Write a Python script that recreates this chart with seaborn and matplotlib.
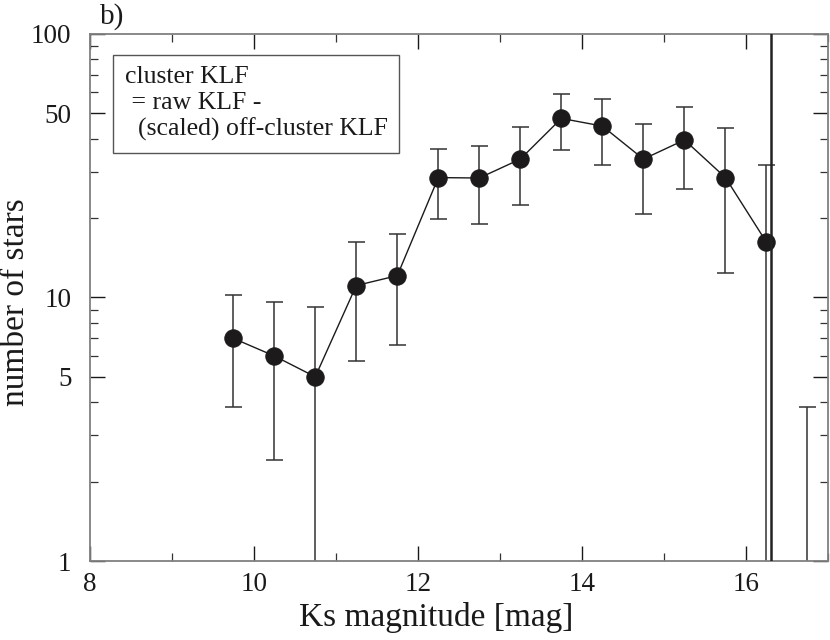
import numpy as np
import pandas as pd
import matplotlib
matplotlib.use("Agg")
import matplotlib.pyplot as plt
from matplotlib.ticker import FixedLocator, FixedFormatter, NullFormatter
import seaborn as sns

# ---- data ----
mag = [9.75, 10.25, 10.75, 11.25, 11.75, 12.25, 12.75, 13.25, 13.75, 14.25, 14.75, 15.25, 15.75, 16.25]
n_stars = [7.0, 6.0, 5.0, 11.1, 12.1, 28.5, 28.4, 33.5, 47.8, 44.7, 33.5, 39.6, 28.5, 16.2]
err_low = [3.83, 2.41, 0.3, 5.73, 6.63, 19.8, 19.05, 22.4, 36.2, 31.9, 20.7, 25.9, 12.4, 0.3]
err_high = [10.2, 9.6, 9.24, 16.3, 17.4, 36.5, 37.4, 44.3, 59.0, 56.6, 45.6, 52.6, 43.9, 31.9]
# last bin: no plotted point, only an upper error bar
extra_mag = [16.75]
extra_low = [0.3]
extra_high = [3.84]
limit_mag = 16.3

y_major = [1, 5, 10, 50, 100]
y_major_labels = ["1", "5", "10", "50", "100"]
y_minor = [2, 3, 4, 6, 7, 8, 9, 20, 30, 40, 60, 70, 80, 90]
x_major = [8, 10, 12, 14, 16]
x_minor = [9, 11, 13, 15, 17]

sns.set_style("ticks")
plt.rcParams["font.family"] = ["Liberation Serif", "DejaVu Serif"]
plt.rcParams["mathtext.fontset"] = "stix"

fig = plt.figure(figsize=(8.3, 6.4), dpi=100)
ax = fig.add_axes([0.108, 0.1234, 0.8896, 0.8236])

df = pd.DataFrame({"mag": mag, "n": n_stars})
dark = "#1c1a1b"
bar_col = "#333333"
cap = 0.105

# error bars
ax.vlines(mag, err_low, err_high, color=bar_col, lw=1.1, zorder=2)
ax.hlines(err_high, np.array(mag) - cap, np.array(mag) + cap, color=bar_col, lw=1.1, zorder=2)
lows_capped = [(m, l) for m, l in zip(mag, err_low) if l > 1]
ax.hlines([l for _, l in lows_capped], [m - cap for m, _ in lows_capped],
          [m + cap for m, _ in lows_capped], color=bar_col, lw=1.1, zorder=2)
ax.vlines(extra_mag, extra_low, extra_high, color=bar_col, lw=1.1, zorder=2)
ax.hlines(extra_high, np.array(extra_mag) - cap, np.array(extra_mag) + cap, color=bar_col, lw=1.1, zorder=2)

sns.lineplot(data=df, x="mag", y="n", ax=ax, color=dark, lw=1.0, marker="o",
             markersize=12.5, markeredgecolor=dark, markerfacecolor=dark, zorder=3)

ax.axvline(limit_mag, color="#222222", lw=1.8, zorder=4)

ax.set_yscale("log")
ax.set_xlim(8, 17)
ax.set_ylim(1, 100)

ax.xaxis.set_major_locator(FixedLocator(x_major))
ax.xaxis.set_minor_locator(FixedLocator(x_minor))
ax.yaxis.set_major_locator(FixedLocator(y_major))
ax.yaxis.set_major_formatter(FixedFormatter(y_major_labels))
ax.yaxis.set_minor_locator(FixedLocator(y_minor))
ax.yaxis.set_minor_formatter(NullFormatter())

ax.tick_params(which="both", direction="in", top=True, right=True, color="#333333")
ax.tick_params(which="major", length=11, width=1.0, labelsize=19.5, colors="#1a1a1a")
ax.tick_params(which="minor", length=6, width=0.9)
ax.tick_params(axis="y", which="major", pad=13)
ax.tick_params(axis="x", which="major", pad=8)

for s in ax.spines.values():
    s.set_color("#808080")
    s.set_linewidth(1.3)

ax.set_xlabel("Ks magnitude [mag]", fontsize=24, color="#1a1a1a")
ax.set_ylabel("number of stars", fontsize=24, color="#1a1a1a")
ax.xaxis.set_label_coords(0.469, -0.078)
ax.yaxis.set_label_coords(-0.08, 0.491)

ax.text(0.0478, 0.939, "cluster KLF\n = raw KLF -\n  (scaled) off-cluster KLF",
        transform=ax.transAxes, fontsize=18.5, va="top", ha="left", color="#1a1a1a",
        linespacing=1.22,
        bbox=dict(boxstyle="square,pad=0.45", facecolor="white", edgecolor="#555555", lw=1.0))

fig.text(0.12, 0.995, "b)", fontsize=21, va="top", ha="left", color="#1a1a1a")

fig.savefig("out.png", dpi=100)
